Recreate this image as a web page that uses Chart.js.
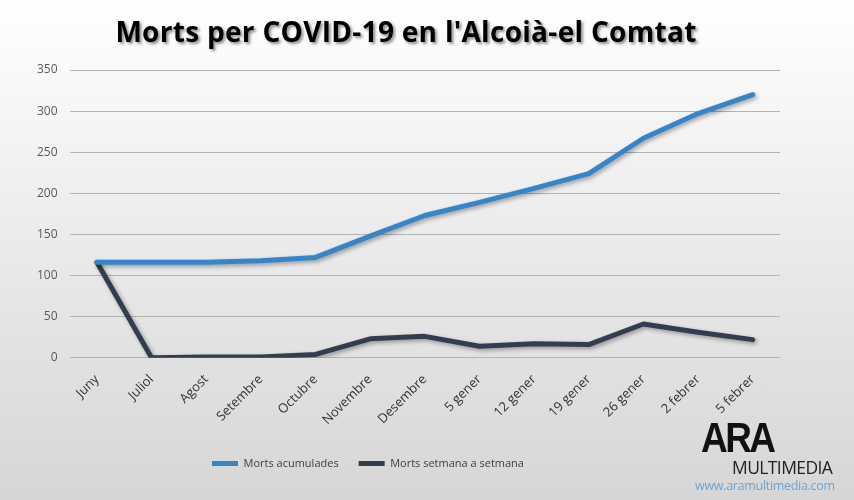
<!DOCTYPE html>
<html>
<head>
<meta charset="utf-8">
<script src="https://cdn.jsdelivr.net/npm/chart.js@4"></script>
<style>
  html, body { margin: 0; padding: 0; }
  body {
    width: 854px; height: 500px; overflow: hidden; position: relative;
    background: linear-gradient(to bottom, #ffffff 0%, #ececec 45%, #d6d6d6 100%);
    font-family: "Open Sans", sans-serif;
  }
  #wrap { position: absolute; left: 0; top: 0; width: 854px; height: 500px; }
  #title {
    position: absolute; left: 0; top: 12px; width: 812px; text-align: center;
    font: bold 28px "Open Sans", sans-serif; color: #000;
    text-shadow: 2px 2px 3px rgba(0,0,0,0.45);
    letter-spacing: 0.3px;
  }
  #logo { position: absolute; left: 690px; top: 420px; width: 150px; }
  #logo .ara {
    position: absolute; left: 11px; top: -7px; font: 900 43px "Liberation Sans", Arial, sans-serif;
    letter-spacing: -3px; color: #111; transform: scaleX(0.86); transform-origin: left top;
  }
  #logo .mm { position: absolute; left: 42px; top: 35px; font: 17.5px "Open Sans", sans-serif; color: #222; letter-spacing: -0.6px; }
  #logo .url { position: absolute; left: 5px; top: 57px; font: 12.5px "Open Sans", sans-serif; color: #6aa6d6; letter-spacing: -0.3px; }
</style>
</head>
<body>
<div id="wrap"><canvas id="deathsChart" width="854" height="500"></canvas></div>
<div id="title">Morts per COVID-19 en l'Alcoià-el Comtat</div>
<div id="logo">
  <div class="ara">ARA</div>
  <div class="mm">MULTIMEDIA</div>
  <div class="url">www.aramultimedia.com</div>
</div>
<script>
// Data
const periods = ['Juny', 'Juliol', 'Agost', 'Setembre', 'Octubre', 'Novembre', 'Desembre',
    '5 gener', '12 gener', '19 gener', '26 gener', '2 febrer', '5 febrer'];
const cumulativeDeaths = [116, 116, 116, 118, 122, 148, 173, 189, 206, 224, 267, 297, 320];
const weeklyDeaths = [116, 0, 1, 1, 4, 23, 26, 14, 17, 16, 41, 31, 22];
const yTicks = [0, 50, 100, 150, 200, 250, 300, 350];

// soft drop shadow under the lines, like the Excel original
const lineShadow = {
    id: 'lineShadow',
    beforeDatasetDraw(chart) {
        const ctx = chart.ctx;
        ctx.save();
        ctx.shadowColor = 'rgba(0, 0, 0, 0.35)';
        ctx.shadowBlur = 4;
        ctx.shadowOffsetX = 2;
        ctx.shadowOffsetY = 2;
    },
    afterDatasetDraw(chart) {
        chart.ctx.restore();
    }
};

// the legend sits left of centre in the reference
const legendShift = {
    id: 'legendShift',
    beforeDraw(chart) {
        const legend = chart.legend;
        if (legend) {
            legend.left = 0;
            legend.right = 736;
        }
    }
};

const ctx = document.getElementById('deathsChart').getContext('2d');
new Chart(ctx, {
    type: 'line',
    data: {
        labels: periods,
        datasets: [
            {
                label: 'Morts acumulades',
                data: cumulativeDeaths,
                borderColor: '#3585c8',
                backgroundColor: '#3585c8',
                borderWidth: 5,
                borderCapStyle: 'round',
                borderJoinStyle: 'round',
                pointRadius: 0,
                tension: 0
            },
            {
                label: 'Morts setmana a setmana',
                data: weeklyDeaths,
                borderColor: '#323e50',
                backgroundColor: '#323e50',
                borderWidth: 5,
                borderCapStyle: 'round',
                borderJoinStyle: 'round',
                pointRadius: 0,
                tension: 0
            }
        ]
    },
    options: {
        responsive: false,
        animation: false,
        layout: {
            padding: { top: 70, left: 25, right: 74, bottom: 21 }
        },
        plugins: {
            title: { display: false },
            tooltip: { enabled: false },
            legend: {
                position: 'bottom',
                labels: {
                    usePointStyle: true,
                    pointStyle: 'line',
                    pointStyleWidth: 26,
                    color: '#404040',
                    font: { family: 'Open Sans', size: 11 },
                    padding: 20
                }
            }
        },
        scales: {
            x: {
                offset: true,
                grid: { display: false },
                border: { display: false },
                afterFit(axis) {
                    axis.height += 4;
                },
                ticks: {
                    autoSkip: false,
                    maxRotation: 45,
                    minRotation: 45,
                    color: '#333333',
                    font: { family: 'Open Sans', size: 13 },
                    padding: 6
                }
            },
            y: {
                min: 0,
                max: 350,
                afterBuildTicks(axis) {
                    axis.ticks = yTicks.map(v => ({ value: v }));
                },
                grid: { color: '#b3b3b3', lineWidth: 1, drawTicks: false },
                border: { display: false },
                ticks: {
                    color: '#595959',
                    font: { family: 'Open Sans', size: 12 },
                    padding: 12
                }
            }
        }
    },
    plugins: [lineShadow, legendShift]
});
</script>
</body>
</html>
